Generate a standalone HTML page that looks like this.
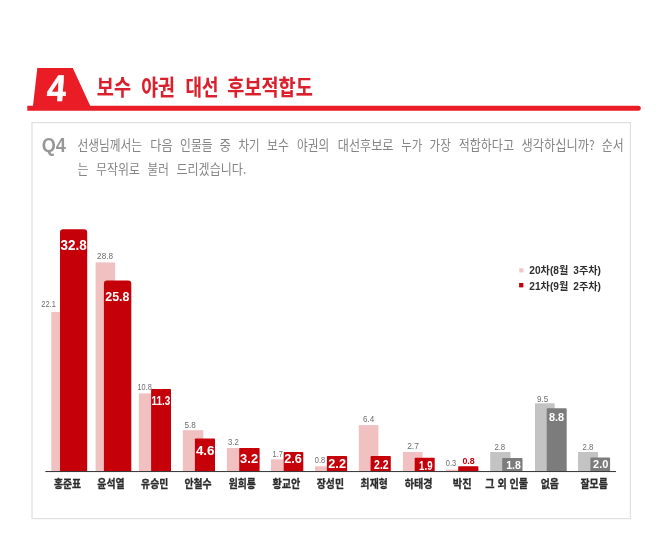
<!DOCTYPE html>
<html lang="ko"><head><meta charset="utf-8"><title>보수 야권 대선 후보적합도</title>
<style>
html,body{margin:0;padding:0;background:#fff;}
body{width:663px;height:537px;overflow:hidden;font-family:"Liberation Sans","Noto Sans CJK KR",sans-serif;}
svg{display:block}
text{font-family:"Liberation Sans","Noto Sans CJK KR",sans-serif;}
.k{font-family:"Noto Sans CJK KR","Liberation Sans",sans-serif;}
</style></head><body>
<svg width="663" height="537" viewBox="0 0 663 537">
<rect width="663" height="537" fill="#ffffff"/>
<path d="M27.3 105.8 H33.0 L37.3 68 H72.8 L90.2 105.8 H638.3 A2.5 2.5 0 0 1 638.3 110.8 H27.3 Z" fill="#ea1c26"/>
<text transform="translate(46.2 101.2) skewX(-4) scale(0.91 0.99)" x="0" y="0" font-size="37.5" font-weight="700" fill="#fff" stroke="#fff" stroke-width="0.6">4</text>
<text class="k" y="94.8" font-size="21.8" font-weight="700" fill="#d9202c" stroke="#d9202c" stroke-width="0.1"><tspan x="96.8" textLength="34.2" lengthAdjust="spacingAndGlyphs">보수</tspan> <tspan x="141.3" textLength="33.6" lengthAdjust="spacingAndGlyphs">야권</tspan> <tspan x="185.6" textLength="33.0" lengthAdjust="spacingAndGlyphs">대선</tspan> <tspan x="227.3" textLength="85.5" lengthAdjust="spacingAndGlyphs">후보적합도</tspan></text>
<rect x="32.0" y="122.6" width="598.4" height="396.0" fill="#fff" stroke="#e0e0e0" stroke-width="1.2"/>
<text x="41.7" y="151.5" font-size="19.7" font-weight="700" fill="#979797" textLength="24.2" lengthAdjust="spacingAndGlyphs">Q4</text>
<text class="k" y="149.7" font-size="13.1" font-weight="400" fill="#848484"><tspan x="77.4" textLength="64.6" lengthAdjust="spacingAndGlyphs">선생님께서는</tspan> <tspan x="150.2" textLength="22.4" lengthAdjust="spacingAndGlyphs">다음</tspan> <tspan x="180.1" textLength="32.5" lengthAdjust="spacingAndGlyphs">인물들</tspan> <tspan x="219.6" textLength="11.3" lengthAdjust="spacingAndGlyphs">중</tspan> <tspan x="238.4" textLength="21.2" lengthAdjust="spacingAndGlyphs">차기</tspan> <tspan x="267.1" textLength="21.8" lengthAdjust="spacingAndGlyphs">보수</tspan> <tspan x="297.0" textLength="32.1" lengthAdjust="spacingAndGlyphs">야권의</tspan> <tspan x="337.8" textLength="55.7" lengthAdjust="spacingAndGlyphs">대선후보로</tspan> <tspan x="401.2" textLength="21.0" lengthAdjust="spacingAndGlyphs">누가</tspan> <tspan x="429.6" textLength="21.1" lengthAdjust="spacingAndGlyphs">가장</tspan> <tspan x="458.7" textLength="55.3" lengthAdjust="spacingAndGlyphs">적합하다고</tspan> <tspan x="521.4" textLength="73.3" lengthAdjust="spacingAndGlyphs">생각하십니까?</tspan> <tspan x="601.8" textLength="21.9" lengthAdjust="spacingAndGlyphs">순서</tspan></text>
<text class="k" y="174.2" font-size="13.1" font-weight="400" fill="#848484"><tspan x="77.4" textLength="11.0" lengthAdjust="spacingAndGlyphs">는</tspan> <tspan x="96.1" textLength="43.9" lengthAdjust="spacingAndGlyphs">무작위로</tspan> <tspan x="147.6" textLength="21.3" lengthAdjust="spacingAndGlyphs">불러</tspan> <tspan x="176.4" textLength="69.9" lengthAdjust="spacingAndGlyphs">드리겠습니다.</tspan></text>
<rect x="519.3" y="268.3" width="4.1" height="4.1" fill="#f1c4c6"/>
<rect x="519.1" y="283" width="4.3" height="4.4" fill="#c4000d"/>
<text y="274.4" font-size="10.3" font-weight="700" fill="#2e2e2e"><tspan x="529.3" textLength="39" lengthAdjust="spacingAndGlyphs">20차(8월</tspan> <tspan x="573.3" textLength="27.6" lengthAdjust="spacingAndGlyphs">3주차)</tspan></text>
<text y="289.6" font-size="10.3" font-weight="700" fill="#2e2e2e"><tspan x="529.3" textLength="39" lengthAdjust="spacingAndGlyphs">21차(9월</tspan> <tspan x="573.3" textLength="27.6" lengthAdjust="spacingAndGlyphs">2주차)</tspan></text>
<rect x="51.3" y="312.0" width="19.7" height="159.2" fill="#f1c0c1"/>
<path d="M60.0 471.2 V232.5 Q60.0 229.3 63.2 229.3 H84.0 Q87.2 229.3 87.2 232.5 V471.2 Z" fill="#c60009"/>
<text x="41.3" y="307.3" font-size="8.6" fill="#6c6c6c" textLength="14.5" lengthAdjust="spacingAndGlyphs">22.1</text>
<text x="60.6" y="249.8" font-size="14.4" font-weight="700" fill="#fff" textLength="26.2" lengthAdjust="spacingAndGlyphs">32.8</text>
<text class="k" x="53.9" y="487.5" font-size="11.3" font-weight="700" fill="#2b2b2b" stroke="#2b2b2b" stroke-width="0.3" textLength="27.1" lengthAdjust="spacingAndGlyphs">홍준표</text>
<rect x="95.6" y="262.4" width="19.5" height="208.8" fill="#f1c0c1"/>
<path d="M103.9 471.2 V283.7 Q103.9 280.5 107.1 280.5 H128.1 Q131.3 280.5 131.3 283.7 V471.2 Z" fill="#c60009"/>
<text x="97.1" y="259.2" font-size="8.6" fill="#6c6c6c" textLength="15.9" lengthAdjust="spacingAndGlyphs">28.8</text>
<text x="105.3" y="301.2" font-size="13.5" font-weight="700" fill="#fff" textLength="24.2" lengthAdjust="spacingAndGlyphs">25.8</text>
<text class="k" x="97.3" y="487.5" font-size="11.3" font-weight="700" fill="#2b2b2b" stroke="#2b2b2b" stroke-width="0.3" textLength="27.3" lengthAdjust="spacingAndGlyphs">윤석열</text>
<rect x="138.8" y="393.4" width="20.2" height="77.8" fill="#f1c0c1"/>
<path d="M151.1 471.2 V389.9 Q151.1 389.1 151.9 389.1 H170.2 Q171.0 389.1 171.0 389.9 V471.2 Z" fill="#c60009"/>
<text x="137.5" y="389.6" font-size="8.6" fill="#6c6c6c" textLength="14.3" lengthAdjust="spacingAndGlyphs">10.8</text>
<text x="151.5" y="405.4" font-size="12.8" font-weight="700" fill="#fff" textLength="18.8" lengthAdjust="spacingAndGlyphs">11.3</text>
<text class="k" x="141.1" y="487.5" font-size="11.3" font-weight="700" fill="#2b2b2b" stroke="#2b2b2b" stroke-width="0.3" textLength="27.2" lengthAdjust="spacingAndGlyphs">유승민</text>
<rect x="182.8" y="430.2" width="20.5" height="41.0" fill="#f1c0c1"/>
<path d="M194.9 471.2 V439.2 Q194.9 438.4 195.7 438.4 H214.2 Q215.0 438.4 215.0 439.2 V471.2 Z" fill="#c60009"/>
<text x="184.4" y="427.6" font-size="8.6" fill="#6c6c6c" textLength="11.4" lengthAdjust="spacingAndGlyphs">5.8</text>
<text x="195.9" y="455.0" font-size="13.4" font-weight="700" fill="#fff" textLength="18.6" lengthAdjust="spacingAndGlyphs">4.6</text>
<text class="k" x="184.5" y="487.5" font-size="11.3" font-weight="700" fill="#2b2b2b" stroke="#2b2b2b" stroke-width="0.3" textLength="27.1" lengthAdjust="spacingAndGlyphs">안철수</text>
<rect x="226.9" y="448.0" width="20.1" height="23.2" fill="#f1c0c1"/>
<path d="M239.2 471.2 V448.8 Q239.2 448.0 240.0 448.0 H258.8 Q259.6 448.0 259.6 448.8 V471.2 Z" fill="#c60009"/>
<text x="228.1" y="444.9" font-size="8.6" fill="#6c6c6c" textLength="10.7" lengthAdjust="spacingAndGlyphs">3.2</text>
<text x="240.1" y="463.1" font-size="12.8" font-weight="700" fill="#fff" textLength="18.0" lengthAdjust="spacingAndGlyphs">3.2</text>
<text class="k" x="228.7" y="487.5" font-size="11.3" font-weight="700" fill="#2b2b2b" stroke="#2b2b2b" stroke-width="0.3" textLength="27.2" lengthAdjust="spacingAndGlyphs">원희룡</text>
<rect x="271.0" y="459.4" width="20.0" height="11.8" fill="#f1c0c1"/>
<path d="M283.7 471.2 V452.8 Q283.7 452.0 284.5 452.0 H302.5 Q303.3 452.0 303.3 452.8 V471.2 Z" fill="#c60009"/>
<text x="272.6" y="456.9" font-size="8.6" fill="#6c6c6c" textLength="10.1" lengthAdjust="spacingAndGlyphs">1.7</text>
<text x="284.2" y="463.1" font-size="12.8" font-weight="700" fill="#fff" textLength="17.7" lengthAdjust="spacingAndGlyphs">2.6</text>
<text class="k" x="272.5" y="487.5" font-size="11.3" font-weight="700" fill="#2b2b2b" stroke="#2b2b2b" stroke-width="0.3" textLength="27.8" lengthAdjust="spacingAndGlyphs">황교안</text>
<rect x="315.1" y="466.3" width="19.9" height="4.9" fill="#f1c0c1"/>
<path d="M326.9 471.2 V456.7 Q326.9 455.9 327.7 455.9 H346.3 Q347.1 455.9 347.1 456.7 V471.2 Z" fill="#c60009"/>
<text x="314.8" y="462.5" font-size="8.6" fill="#6c6c6c" textLength="10.4" lengthAdjust="spacingAndGlyphs">0.8</text>
<text x="328.3" y="467.8" font-size="12.6" font-weight="700" fill="#fff" textLength="17.7" lengthAdjust="spacingAndGlyphs">2.2</text>
<text class="k" x="316.8" y="487.5" font-size="11.3" font-weight="700" fill="#2b2b2b" stroke="#2b2b2b" stroke-width="0.3" textLength="27.2" lengthAdjust="spacingAndGlyphs">장성민</text>
<rect x="358.8" y="425.1" width="19.6" height="46.1" fill="#f1c0c1"/>
<path d="M370.6 471.2 V456.7 Q370.6 455.9 371.4 455.9 H390.0 Q390.8 455.9 390.8 456.7 V471.2 Z" fill="#c60009"/>
<text x="363.0" y="422.0" font-size="8.6" fill="#6c6c6c" textLength="11.2" lengthAdjust="spacingAndGlyphs">6.4</text>
<text x="374.0" y="468.6" font-size="12.6" font-weight="700" fill="#fff" textLength="14.7" lengthAdjust="spacingAndGlyphs">2.2</text>
<text class="k" x="360.6" y="487.5" font-size="11.3" font-weight="700" fill="#2b2b2b" stroke="#2b2b2b" stroke-width="0.3" textLength="27.1" lengthAdjust="spacingAndGlyphs">최재형</text>
<rect x="402.9" y="452.0" width="19.6" height="19.2" fill="#f1c0c1"/>
<path d="M414.7 471.2 V458.6 Q414.7 457.8 415.5 457.8 H433.9 Q434.7 457.8 434.7 458.6 V471.2 Z" fill="#c60009"/>
<text x="407.2" y="449.4" font-size="8.6" fill="#6c6c6c" textLength="11.7" lengthAdjust="spacingAndGlyphs">2.7</text>
<text x="419.1" y="470.4" font-size="12.3" font-weight="700" fill="#fff" textLength="13.4" lengthAdjust="spacingAndGlyphs">1.9</text>
<text class="k" x="404.7" y="487.5" font-size="11.3" font-weight="700" fill="#2b2b2b" stroke="#2b2b2b" stroke-width="0.3" textLength="27.8" lengthAdjust="spacingAndGlyphs">하태경</text>
<rect x="446.1" y="469.6" width="19.9" height="1.6" fill="#f1c0c1"/>
<path d="M458.2 471.2 V467.1 Q458.2 466.3 459.0 466.3 H477.6 Q478.4 466.3 478.4 467.1 V471.2 Z" fill="#c60009"/>
<text x="445.8" y="466.3" font-size="8.6" fill="#6c6c6c" textLength="10.4" lengthAdjust="spacingAndGlyphs">0.3</text>
<text x="462.4" y="464.3" font-size="8.5" font-weight="700" fill="#c60009" textLength="12.4" lengthAdjust="spacingAndGlyphs">0.8</text>
<text class="k" x="452.8" y="487.5" font-size="11.3" font-weight="700" fill="#2b2b2b" stroke="#2b2b2b" stroke-width="0.3" textLength="18.8" lengthAdjust="spacingAndGlyphs">박진</text>
<rect x="490.2" y="452.0" width="20.3" height="19.2" fill="#c3c3c3"/>
<path d="M502.2 471.2 V458.9 Q502.2 458.1 503.0 458.1 H521.7 Q522.5 458.1 522.5 458.9 V471.2 Z" fill="#7c7c7c"/>
<text x="494.4" y="450.1" font-size="8.6" fill="#6c6c6c" textLength="10.8" lengthAdjust="spacingAndGlyphs">2.8</text>
<text x="506.2" y="468.7" font-size="10.8" font-weight="700" fill="#fff" textLength="14.6" lengthAdjust="spacingAndGlyphs">1.8</text>
<text class="k" x="485.3" y="487.5" font-size="11.3" font-weight="700" fill="#2b2b2b" stroke="#2b2b2b" stroke-width="0.3" textLength="42.7" lengthAdjust="spacingAndGlyphs">그 외 인물</text>
<rect x="535.0" y="403.3" width="19.7" height="67.9" fill="#c3c3c3"/>
<path d="M546.7 471.2 V409.1 Q546.7 408.3 547.5 408.3 H565.9 Q566.7 408.3 566.7 409.1 V471.2 Z" fill="#7c7c7c"/>
<text x="536.9" y="401.5" font-size="8.6" fill="#6c6c6c" textLength="11.3" lengthAdjust="spacingAndGlyphs">9.5</text>
<text x="549.0" y="420.7" font-size="11.0" font-weight="700" fill="#fff" textLength="15.2" lengthAdjust="spacingAndGlyphs">8.8</text>
<text class="k" x="540.7" y="487.5" font-size="11.3" font-weight="700" fill="#2b2b2b" stroke="#2b2b2b" stroke-width="0.3" textLength="18.2" lengthAdjust="spacingAndGlyphs">없음</text>
<rect x="578.0" y="452.0" width="20.1" height="19.2" fill="#c3c3c3"/>
<path d="M590.4 471.2 V458.4 Q590.4 457.6 591.2 457.6 H609.3 Q610.1 457.6 610.1 458.4 V471.2 Z" fill="#7c7c7c"/>
<text x="582.6" y="450.1" font-size="8.6" fill="#6c6c6c" textLength="10.8" lengthAdjust="spacingAndGlyphs">2.8</text>
<text x="593.1" y="468.2" font-size="10.9" font-weight="700" fill="#fff" textLength="15.2" lengthAdjust="spacingAndGlyphs">2.0</text>
<text class="k" x="580.5" y="487.5" font-size="11.3" font-weight="700" fill="#2b2b2b" stroke="#2b2b2b" stroke-width="0.3" textLength="27.2" lengthAdjust="spacingAndGlyphs">잘모름</text>
<rect x="45.3" y="471.1" width="570.7" height="0.95" fill="#2a2a2a"/>
</svg></body></html>
